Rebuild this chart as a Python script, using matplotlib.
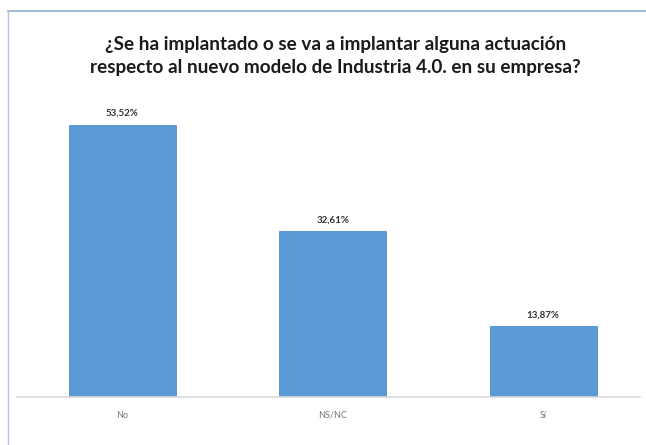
import matplotlib.pyplot as plt
from matplotlib.lines import Line2D

# Data
categories = ['No', 'NS/NC', 'Sí']
values = [53.52, 32.61, 13.87]
value_labels = ['53,52%', '32,61%', '13,87%']

title = ('¿Se ha implantado o se va a implantar alguna actuación\n'
         'respecto al nuevo modelo de Industria 4.0. en su empresa?')

plt.rcParams['font.family'] = ['Lato', 'DejaVu Sans']

fig = plt.figure(figsize=(6.46, 4.45), dpi=100)
ax = fig.add_axes([0.0263, 0.1079, 0.9644, 0.686])

x = range(len(categories))
ax.bar(x, values, width=0.51, color='#5b9bd5', edgecolor='#4f8cc9', linewidth=0.6)

for xi, v, lab in zip(x, values, value_labels):
    ax.text(xi, v + 1.3, lab, ha='center', va='bottom', fontsize=7,
            fontweight='bold', color='#333333')

ax.set_xlim(-0.5, 2.46)
ax.set_ylim(0, 60)
ax.set_xticks(list(x))
ax.set_xticklabels(categories, fontsize=6.5, color='#777777')
ax.tick_params(axis='x', length=0, pad=10)
ax.set_yticks([])
for side in ['top', 'right', 'left']:
    ax.spines[side].set_visible(False)
ax.spines['bottom'].set_color('#d9d9d9')
ax.spines['bottom'].set_linewidth(1.2)

fig.text(0.519, 0.875, title, ha='center', va='center', fontsize=13.6,
         fontweight='bold', color='#1a1a1a', linespacing=1.43)

# light blue frame on top and left
fig.add_artist(Line2D([8 / 646, 1.0], [1 - 11 / 445, 1 - 11 / 445],
                      transform=fig.transFigure, color='#8eaecb', linewidth=1.2))
fig.add_artist(Line2D([8 / 646, 8 / 646], [0.0, 1 - 11 / 445],
                      transform=fig.transFigure, color='#b5c9dc', linewidth=1.0))

fig.savefig('out.png', dpi=100)
